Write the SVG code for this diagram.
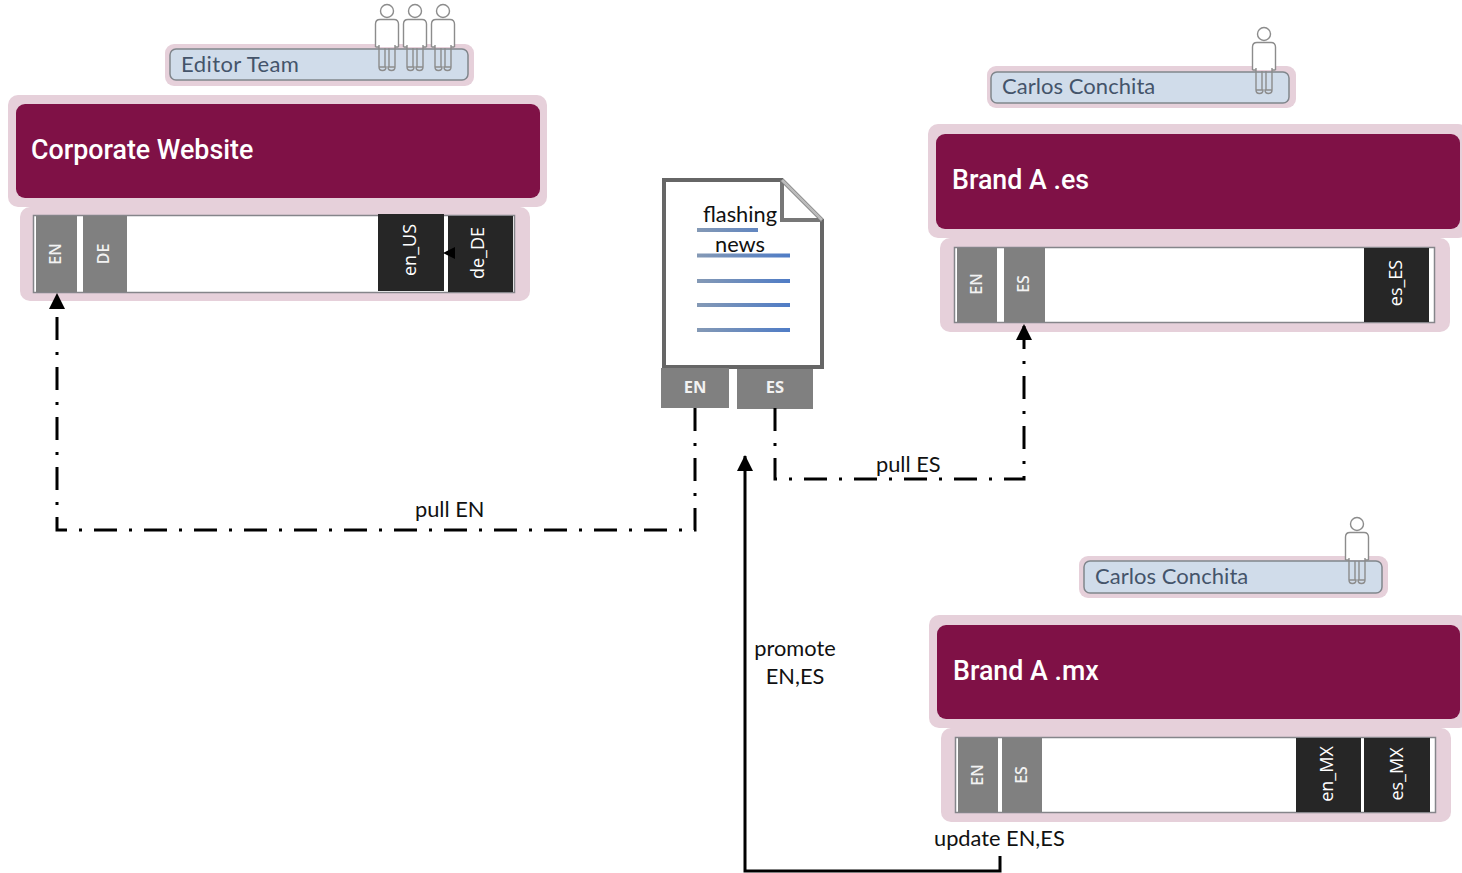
<svg xmlns="http://www.w3.org/2000/svg" xmlns:xlink="http://www.w3.org/1999/xlink" width="1462" height="873" viewBox="0 0 1462 873">
<style>
.halo{fill:#e6d0da}
.site{fill:#7f1146}
.title{font-family:"Roboto","Liberation Sans",sans-serif;font-weight:500;font-size:26.800px;fill:#fff}
.strip{fill:#fff;stroke:#85858a;stroke-width:1.5}
.g{fill:#808080}
.k{fill:#262626}
.gl{font-family:"Open Sans","Liberation Sans",sans-serif;font-weight:600;font-size:16px;fill:#f2f2f2;text-anchor:middle}
.tl{font-family:"Open Sans","Liberation Sans",sans-serif;font-weight:700;font-size:16.500px;fill:#f2f2f2;text-anchor:middle}
.kl{font-family:"Open Sans","Liberation Sans",sans-serif;font-size:18px;fill:#fff;text-anchor:middle}
.badge{fill:#d0dcea;stroke:#80868c;stroke-width:1.5}
.name{font-family:"Lato","Liberation Sans",sans-serif;font-size:22px;letter-spacing:.05px;fill:#44546a}
.lab{font-family:"Lato","Liberation Sans",sans-serif;font-size:21.800px;fill:#111}
.c{fill:none;stroke:#000;stroke-width:3}
.dd{stroke-dasharray:23 12 3 12}
.bar{stroke:url(#bl);stroke-width:4}
.p{fill:#fff;stroke:#8c8c8c;stroke-width:1.4}
.l{fill:none;stroke:#8c8c8c;stroke-width:1.4}
</style>
<defs>
<linearGradient id="bl" gradientUnits="userSpaceOnUse" x1="697" y1="0" x2="790" y2="0"><stop offset="0" stop-color="#8499b5"/><stop offset="1" stop-color="#4f7cc6"/></linearGradient>
<marker id="ah" viewBox="0 0 16 16" refX="15" refY="8" markerWidth="16" markerHeight="16" markerUnits="userSpaceOnUse" orient="auto"><path d="M0,0 L16,8 L0,16 Z" fill="#000"/></marker>
<g id="person">
<circle cx="0" cy="11" r="6.5" class="p"/>
<path d="M-11.500,47 V24 Q-11.500,19.500 -7,19.500 H7 Q11.500,19.500 11.500,24 V47 M-11.500,47 H-8 M11.500,47 H8" class="p"/>
<path d="M-8,45 V67 M-2,48 V67 M2,48 V67 M8,45 V67 M-8,67 Q-8,70.500 -4.500,70.500 Q-1,70.500 -1,67 Z M1,67 Q1,70.500 4.500,70.500 Q8,70.500 8,67 Z" class="l"/>
</g>
</defs>
<rect width="1462" height="873" fill="#fff"/>

<g id="editor-team">
<rect class="halo" x="165" y="44" width="309" height="42" rx="9"/>
<rect class="badge" x="170" y="49" width="298" height="31" rx="6"/>
<text class="name" x="181" y="72" textLength="118">Editor Team</text>
<use xlink:href="#person" x="387" y="0"/><use xlink:href="#person" x="415" y="0"/><use xlink:href="#person" x="443" y="0"/>
</g>

<g id="corporate-website">
<rect class="halo" x="8" y="95" width="539" height="112" rx="10"/>
<rect class="site" x="16" y="104" width="524" height="94" rx="9"/>
<text class="title" x="31" y="159">Corporate Website</text>
<rect class="halo" x="20" y="207" width="510" height="94" rx="10"/>
<rect class="strip" x="33.500" y="215.500" width="481" height="77"/>
<rect class="g" x="36" y="216" width="41" height="76"/><rect class="g" x="83" y="216" width="44" height="76"/>
<rect class="k" x="378" y="214" width="66" height="77"/><rect class="k" x="448" y="216" width="65" height="76"/>
<path d="M443,253 L455,247 V259 Z" fill="#000"/>
<text class="gl" transform="translate(61,254) rotate(-90)">EN</text>
<text class="gl" transform="translate(109,254) rotate(-90)">DE</text>
<text class="kl" transform="translate(416,250) rotate(-90)">en_US</text>
<text class="kl" transform="translate(484,253) rotate(-90)">de_DE</text>
</g>

<g id="carlos-es">
<rect class="halo" x="987" y="66" width="309" height="42" rx="9"/>
<rect class="badge" x="991" y="72" width="298" height="31" rx="6"/>
<text class="name" x="1002" y="94">Carlos Conchita</text>
<use xlink:href="#person" x="1264" y="23"/>
</g>

<g id="brand-a-es">
<rect class="halo" x="928" y="124" width="540" height="114" rx="10"/>
<rect class="site" x="936" y="134" width="524" height="95" rx="9"/>
<text class="title" x="952" y="189">Brand A .es</text>
<rect class="halo" x="940" y="238" width="510" height="94" rx="10"/>
<rect class="strip" x="954.500" y="247.500" width="480" height="75"/>
<rect class="g" x="957" y="248" width="40" height="74"/><rect class="g" x="1004" y="248" width="41" height="74"/>
<rect class="k" x="1364" y="248" width="65" height="74"/>
<text class="gl" transform="translate(982,284) rotate(-90)">EN</text>
<text class="gl" transform="translate(1029,284) rotate(-90)">ES</text>
<text class="kl" transform="translate(1402,283) rotate(-90)">es_ES</text>
</g>

<g id="carlos-mx">
<rect class="halo" x="1079" y="556" width="309" height="42" rx="9"/>
<rect class="badge" x="1084" y="561" width="298" height="32" rx="6"/>
<text class="name" x="1095" y="584">Carlos Conchita</text>
<use xlink:href="#person" x="1357" y="513"/>
</g>

<g id="brand-a-mx">
<rect class="halo" x="929" y="615" width="540" height="113" rx="10"/>
<rect class="site" x="937" y="625" width="523" height="94" rx="9"/>
<text class="title" x="953" y="680">Brand A .mx</text>
<rect class="halo" x="941" y="728" width="510" height="94" rx="10"/>
<rect class="strip" x="955.500" y="737.500" width="480" height="75"/>
<rect class="g" x="958" y="738" width="40" height="74"/><rect class="g" x="1002" y="738" width="40" height="74"/>
<rect class="k" x="1296" y="738" width="65" height="74"/><rect class="k" x="1364" y="738" width="66" height="74"/>
<text class="gl" transform="translate(983,775) rotate(-90)">EN</text>
<text class="gl" transform="translate(1027,775) rotate(-90)">ES</text>
<text class="kl" transform="translate(1333,774) rotate(-90)">en_MX</text>
<text class="kl" transform="translate(1403,774) rotate(-90)">es_MX</text>
</g>

<g id="flashing-news">
<path d="M664,180 H782 L822,220 V367 H664 Z" fill="#fff" stroke="#666" stroke-width="4"/>
<path d="M782,180 V220 H822" fill="none" stroke="#777" stroke-width="4"/>
<path d="M782,180 L822,220" fill="none" stroke="#bbb" stroke-width="3"/>
<path class="bar" d="M697,230 H758 M697,255.500 H790 M697,281 H790 M697,305 H790 M697,330 H790"/>
<text class="lab" x="740" y="222" text-anchor="middle">flashing</text>
<text class="lab" x="740" y="252" text-anchor="middle">news</text>
<rect class="g" x="661" y="368" width="68" height="40"/><rect class="g" x="737" y="369" width="76" height="40"/>
<text class="tl" x="695" y="393">EN</text>
<text class="tl" x="775" y="393">ES</text>
</g>

<g id="connectors">
<path class="c dd" d="M695,408 V530 H57 V294" marker-end="url(#ah)"/>
<path class="c dd" d="M775,408 V479 H1024 V325" marker-end="url(#ah)"/>
<path class="c" d="M1000,856 V871 H745 V456" marker-end="url(#ah)"/>
<text class="lab" x="415" y="517">pull EN</text>
<text class="lab" x="876" y="472">pull ES</text>
<text class="lab" x="795" y="656" text-anchor="middle">promote</text>
<text class="lab" x="795" y="684" text-anchor="middle">EN,ES</text>
<text class="lab" x="934" y="846">update EN,ES</text>
</g>
</svg>
